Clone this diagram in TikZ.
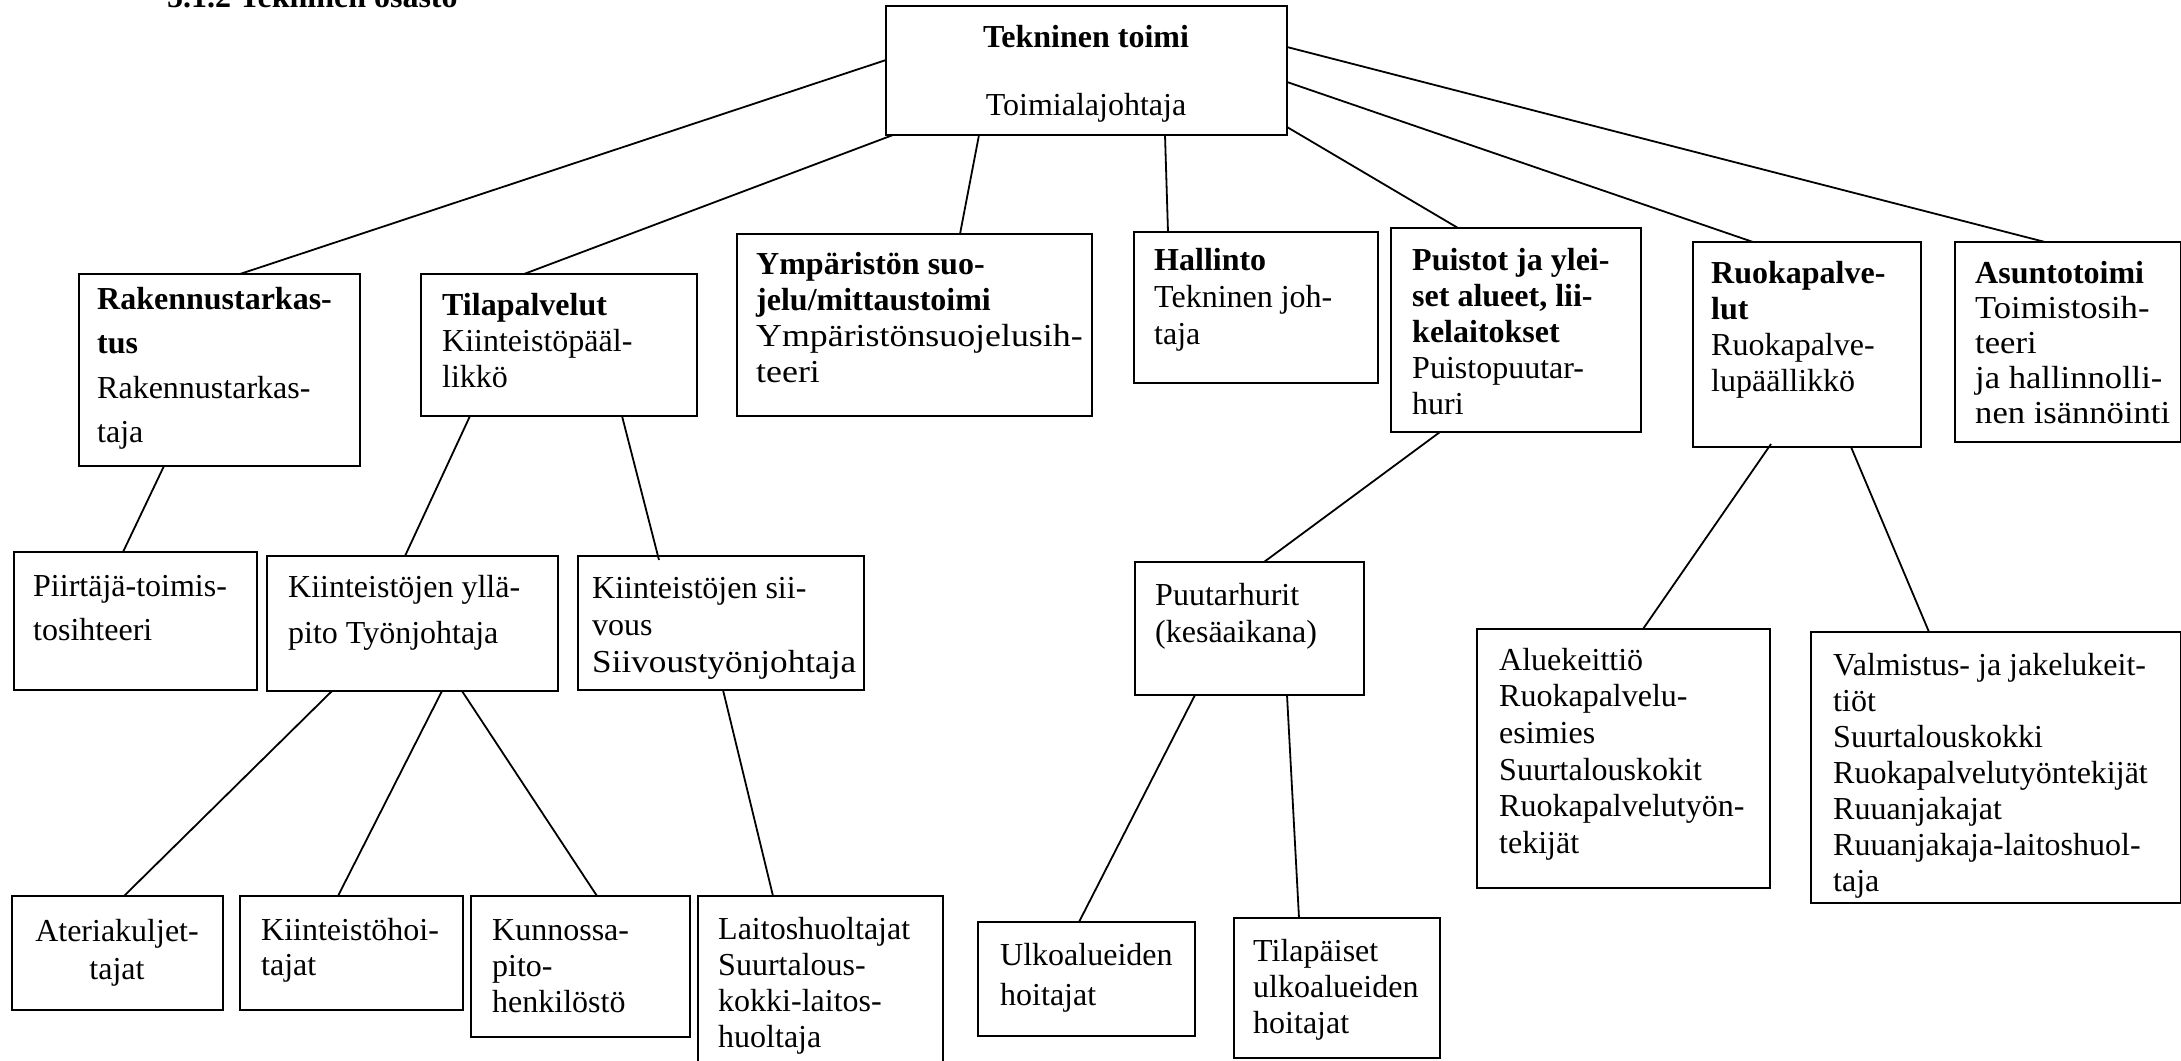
\documentclass[tikz,border=0pt]{standalone}
\usepackage{fontspec}
\usepackage{graphicx}
\setmainfont{Liberation Serif}
\newcommand\fs{\rule{0pt}{24pt}}
\newcommand\stretchx[2]{\scalebox{#1}[1]{#2}}
\tikzset{
  bx/.style={draw, line width=2.6pt, anchor=north west, inner sep=0pt, outer sep=0pt},
  bxm/.style={bx, line width=2pt},
  bxt/.style={bx, line width=1.1pt},
  txt/.style={anchor=north west, inner sep=0pt, align=left},
  link/.style={line width=1.8pt},
}
\begin{document}
\begin{tikzpicture}[x=1pt,y=-1pt]
\useasboundingbox (0,0) rectangle (2181,1060);

% title (cut at top)
\node[anchor=base west, inner sep=0pt, font=\bfseries\fontsize{32}{36}\selectfont] (title) at (167,8) {5.1.2 Tekninen osasto};

% boxes
\node[bx,  minimum width=401, minimum height=129] (top)  at (886,6) {};
\node[bx,  minimum width=281, minimum height=192] (rak)  at (79,274) {};
\node[bx,  minimum width=276, minimum height=142] (til)  at (421,274) {};
\node[bx,  minimum width=355, minimum height=182] (ymp)  at (737,234) {};
\node[bxt, minimum width=244, minimum height=151] (hal)  at (1134,232) {};
\node[bx,  minimum width=250, minimum height=204] (pui)  at (1391,228) {};
\node[bx,  minimum width=228, minimum height=205] (ruo)  at (1693,242) {};
\node[bx,  minimum width=226, minimum height=200] (asu)  at (1955,242) {};
\node[bx,  minimum width=243, minimum height=138] (pii)  at (14,552) {};
\node[bxm, minimum width=291, minimum height=135] (yll)  at (267,556) {};
\node[bxm, minimum width=286, minimum height=134] (sii)  at (578,556) {};
\node[bx,  minimum width=229, minimum height=133] (puu)  at (1135,562) {};
\node[bx,  minimum width=293, minimum height=259] (alu)  at (1477,629) {};
\node[bx,  minimum width=370, minimum height=271] (val)  at (1811,632) {};
\node[bx,  minimum width=211, minimum height=114] (ate)  at (12,896) {};
\node[bxm, minimum width=223, minimum height=114] (kii)  at (240,896) {};
\node[bxm, minimum width=219, minimum height=141] (kun)  at (471,896) {};
\node[bxm, minimum width=245, minimum height=170] (lai)  at (698,896) {};
\node[bxm, minimum width=217, minimum height=114] (ulk)  at (978,922) {};
\node[bxm, minimum width=206, minimum height=140] (tilp) at (1234,918) {};

% texts
\node[anchor=north, inner sep=0pt, align=center, font=\fontsize{32}{68}\selectfont] (topT) at (1086,23)
  {\fs\textbf{Tekninen toimi}\\Toimialajohtaja};
\node[txt, font=\fontsize{32}{44.5}\selectfont] (rakT) at (97,285)
  {\fs\textbf{Rakennustarkas-}\\\textbf{tus}\\Rakennustarkas-\\taja};
\node[txt, font=\fontsize{32}{36}\selectfont] (tilT) at (442,291)
  {\fs\textbf{Tilapalvelut}\\Kiinteistöpääl-\\likkö};
\node[txt, font=\fontsize{32}{36}\selectfont] (ympT) at (756,250)
  {\fs\textbf{Ympäristön suo-}\\\textbf{jelu/mittaustoimi}\\\stretchx{1.12}{Ympäristönsuojelusih-}\\\stretchx{1.12}{teeri}};
\node[txt, font=\fontsize{32}{37}\selectfont] (halT) at (1154,246)
  {\fs\textbf{Hallinto}\\Tekninen joh-\\taja};
\node[txt, font=\fontsize{32}{36}\selectfont] (puiT) at (1412,246)
  {\fs\textbf{Puistot ja ylei-}\\\textbf{set alueet, lii-}\\\textbf{kelaitokset}\\Puistopuutar-\\huri};
\node[txt, font=\fontsize{32}{36}\selectfont] (ruoT) at (1711,259)
  {\fs\textbf{Ruokapalve-}\\\textbf{lut}\\Ruokapalve-\\lupäällikkö};
\node[txt, font=\fontsize{32}{35}\selectfont] (asuT) at (1975,259)
  {\fs\textbf{Asuntotoimi}\\\stretchx{1.08}{Toimistosih-}\\\stretchx{1.08}{teeri}\\\stretchx{1.08}{ja hallinnolli-}\\\stretchx{1.08}{nen isännöinti}};
\node[txt, font=\fontsize{32}{44}\selectfont] (piiT) at (33,572)
  {\fs Piirtäjä-toimis-\\tosihteeri};
\node[txt, font=\fontsize{32}{46}\selectfont] (yllT) at (288,573)
  {\fs Kiinteistöjen yllä-\\pito Työnjohtaja};
\node[txt, font=\fontsize{32}{37}\selectfont] (siiT) at (592,574)
  {\fs Kiinteistöjen sii-\\vous\\\stretchx{1.1}{Siivoustyönjohtaja}};
\node[txt, font=\fontsize{32}{37}\selectfont] (puuT) at (1155,581)
  {\fs Puutarhurit\\(kesäaikana)};
\node[txt, font=\fontsize{32}{36.6}\selectfont] (aluT) at (1499,646)
  {\fs Aluekeittiö\\Ruokapalvelu-\\esimies\\Suurtalouskokit\\Ruokapalvelutyön-\\tekijät};
\begin{scope}
  \clip (val.north west) rectangle (val.south east);
  \node[txt, font=\fontsize{32}{36}\selectfont] (valT) at (1833,651)
    {\fs Valmistus- ja jakelukeit-\\tiöt\\Suurtalouskokki\\Ruokapalvelutyöntekijät\\Ruuanjakajat\\Ruuanjakaja-laitoshuol-\\taja};
\end{scope}
\node[anchor=north, inner sep=0pt, align=center, font=\fontsize{32}{38}\selectfont] (ateT) at (117,917)
  {\fs Ateriakuljet-\\tajat};
\node[txt, font=\fontsize{32}{35}\selectfont] (kiiT) at (261,916)
  {\fs Kiinteistöhoi-\\tajat};
\node[txt, font=\fontsize{32}{36}\selectfont] (kunT) at (492,916)
  {\fs Kunnossa-\\pito-\\henkilöstö};
\node[txt, font=\fontsize{32}{36}\selectfont] (laiT) at (718,915)
  {\fs Laitoshuoltajat\\Suurtalous-\\kokki-laitos-\\huoltaja};
\node[txt, font=\fontsize{32}{40}\selectfont] (ulkT) at (1000,941)
  {\fs Ulkoalueiden\\hoitajat};
\node[txt, font=\fontsize{32}{36}\selectfont] (tilpT) at (1253,937)
  {\fs Tilapäiset\\ulkoalueiden\\hoitajat};

% connectors
\draw[link] ([yshift=-54pt]top.north west) -- ([xshift=161pt]rak.north west);
\draw[link] ([xshift=7pt]top.south west)   -- ([xshift=103pt]til.north west);
\draw[link] ([xshift=93pt]top.south west)  -- ([xshift=223pt]ymp.north west);
\draw[link] ([xshift=279pt]top.south west) -- ([xshift=34pt]hal.north west);
\draw[link] ([yshift=-121pt]top.north east) -- ([xshift=67pt]pui.north west);
\draw[link] ([yshift=-76pt]top.north east) -- ([xshift=60pt]ruo.north west);
\draw[link] ([yshift=-41pt]top.north east) -- ([xshift=90pt]asu.north west);
\draw[link] ([xshift=85pt]rak.south west)  -- ([xshift=109pt]pii.north west);
\draw[link] ([xshift=49pt]til.south west)  -- ([xshift=138pt]yll.north west);
\draw[link] ([xshift=201pt]til.south west) -- ([xshift=81pt,yshift=-4pt]sii.north west);
\draw[link] ([xshift=49pt]pui.south west)  -- ([xshift=129pt]puu.north west);
\draw[link] ([xshift=78pt,yshift=3pt]ruo.south west) -- ([xshift=166pt]alu.north west);
\draw[link] ([xshift=158pt]ruo.south west) -- ([xshift=118pt]val.north west);
\draw[link] ([xshift=65pt]yll.south west)  -- ([xshift=112pt]ate.north west);
\draw[link] ([xshift=175pt]yll.south west) -- ([xshift=98pt]kii.north west);
\draw[link] ([xshift=195pt]yll.south west) -- ([xshift=126pt]kun.north west);
\draw[link] ([xshift=145pt]sii.south west) -- ([xshift=75pt]lai.north west);
\draw[link] ([xshift=60pt]puu.south west)  -- ([xshift=101pt]ulk.north west);
\draw[link] ([xshift=152pt]puu.south west) -- ([xshift=65pt]tilp.north west);
\end{tikzpicture}
\end{document}
